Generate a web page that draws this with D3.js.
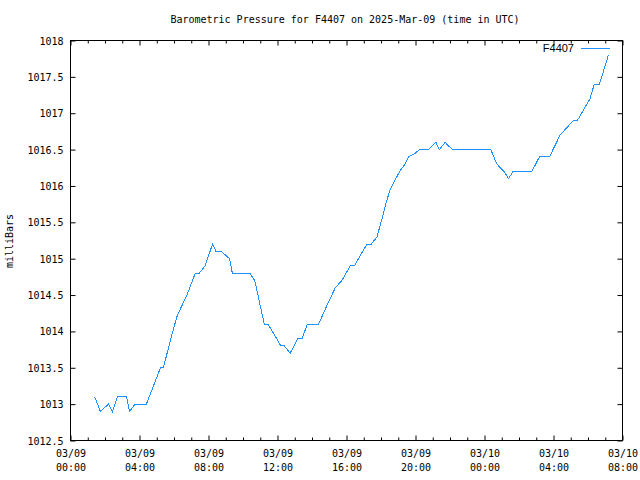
<!DOCTYPE html>
<html><head><meta charset="utf-8">
<script src="https://cdn.jsdelivr.net/npm/d3@7"></script>
<style>body{margin:0;background:#fff}svg{display:block}</style>
</head><body>
<svg id="c" width="640" height="480"></svg>
<script>
const titleText = "Barometric Pressure for F4407 on 2025-Mar-09 (time in UTC)";
const yLabelText = "milliBars";
const seriesName = "F4407";
const times = [
 "2025-03-09T01:24","2025-03-09T01:44","2025-03-09T02:12","2025-03-09T02:26","2025-03-09T02:43",
 "2025-03-09T03:15","2025-03-09T03:25","2025-03-09T03:45","2025-03-09T04:24","2025-03-09T05:13",
 "2025-03-09T05:23","2025-03-09T05:49","2025-03-09T06:10","2025-03-09T06:21","2025-03-09T06:45",
 "2025-03-09T07:14","2025-03-09T07:28","2025-03-09T07:48","2025-03-09T08:14","2025-03-09T08:26",
 "2025-03-09T08:45","2025-03-09T09:13","2025-03-09T09:23","2025-03-09T10:24","2025-03-09T10:41",
 "2025-03-09T11:14","2025-03-09T11:27","2025-03-09T12:12","2025-03-09T12:24","2025-03-09T12:44",
 "2025-03-09T13:11","2025-03-09T13:25","2025-03-09T13:44","2025-03-09T14:23","2025-03-09T14:57",
 "2025-03-09T15:21","2025-03-09T15:44","2025-03-09T16:13","2025-03-09T16:27","2025-03-09T17:11",
 "2025-03-09T17:26","2025-03-09T17:46","2025-03-09T18:07","2025-03-09T18:20","2025-03-09T18:32",
 "2025-03-09T18:45","2025-03-09T19:05","2025-03-09T19:24","2025-03-09T19:36","2025-03-09T19:59",
 "2025-03-09T20:14","2025-03-09T20:45","2025-03-09T21:11","2025-03-09T21:23","2025-03-09T21:43",
 "2025-03-09T21:55","2025-03-09T22:10","2025-03-10T00:22","2025-03-10T00:43","2025-03-10T01:08",
 "2025-03-10T01:24","2025-03-10T01:39","2025-03-10T02:45","2025-03-10T03:11","2025-03-10T03:46",
 "2025-03-10T04:23","2025-03-10T04:46","2025-03-10T05:09","2025-03-10T05:23","2025-03-10T06:07",
 "2025-03-10T06:22","2025-03-10T06:40","2025-03-10T07:11"
];
const pressures = [
 1013.1,1012.9,1013.0,1012.9,1013.1,
 1013.1,1012.9,1013.0,1013.0,1013.5,
 1013.5,1013.9,1014.2,1014.3,1014.5,
 1014.8,1014.8,1014.9,1015.2,1015.1,
 1015.1,1015.0,1014.8,1014.8,1014.7,
 1014.1,1014.1,1013.8,1013.8,1013.7,
 1013.9,1013.9,1014.1,1014.1,1014.4,
 1014.6,1014.7,1014.9,1014.9,1015.2,
 1015.2,1015.3,1015.6,1015.8,1015.95,
 1016.05,1016.2,1016.3,1016.4,1016.45,
 1016.5,1016.5,1016.6,1016.5,1016.6,
 1016.55,1016.5,1016.5,1016.3,1016.2,
 1016.1,1016.2,1016.2,1016.4,1016.4,
 1016.7,1016.8,1016.9,1016.9,1017.2,
 1017.4,1017.4,1017.8
];
const yTicks = [1012.5,1013,1013.5,1014,1014.5,1015,1015.5,1016,1016.5,1017,1017.5,1018];
const xDomain = ["2025-03-09T00:00","2025-03-10T08:00"];

const parse = d3.utcParse("%Y-%m-%dT%H:%M");
const data = times.map((t,i)=>({t:parse(t), v:pressures[i]}));

const L=70.5, R=622.5, T=40.5, B=440.5;
const x = d3.scaleUtc().domain(xDomain.map(parse)).range([L,R]);
const y = d3.scaleLinear().domain([1012.5,1018]).range([B,T]);

const svg = d3.select("#c");
svg.append("rect").attr("width",640).attr("height",480).attr("fill","#fff");
const mono = "'DejaVu Sans Mono', monospace";

svg.append("rect").attr("x",L).attr("y",T).attr("width",R-L).attr("height",B-T)
  .attr("fill","none").attr("stroke","#000").attr("stroke-width",1);

const majorX = x.ticks(d3.utcHour.every(4));
const minorX = x.ticks(d3.utcHour.every(1)).filter(d=>d.getUTCHours()%4!==0);

const gxb = svg.append("g").attr("transform",`translate(0,${B})`)
  .call(d3.axisBottom(x).tickValues(majorX).tickSize(-5).tickSizeOuter(0).tickFormat(""));
const gxbm = svg.append("g").attr("transform",`translate(0,${B})`)
  .call(d3.axisBottom(x).tickValues(minorX).tickSize(-3).tickSizeOuter(0).tickFormat(""));
const gxt = svg.append("g").attr("transform",`translate(0,${T})`)
  .call(d3.axisTop(x).tickValues(majorX).tickSize(-5).tickSizeOuter(0).tickFormat(""));
const gxtm = svg.append("g").attr("transform",`translate(0,${T})`)
  .call(d3.axisTop(x).tickValues(minorX).tickSize(-3).tickSizeOuter(0).tickFormat(""));
const gyl = svg.append("g").attr("transform",`translate(${L},0)`)
  .call(d3.axisLeft(y).tickValues(yTicks).tickSize(-5).tickSizeOuter(0).tickFormat(""));
const gyr = svg.append("g").attr("transform",`translate(${R},0)`)
  .call(d3.axisRight(y).tickValues(yTicks).tickSize(-5).tickSizeOuter(0).tickFormat(""));
[gxb,gxbm,gxt,gxtm,gyl,gyr].forEach(g=>{g.select(".domain").remove(); g.selectAll("line").attr("stroke","#000");});

const fmtD = d3.utcFormat("%m/%d"), fmtH = d3.utcFormat("%H:%M");
gxb.selectAll(".tick").each(function(d){
  const t = d3.select(this).append("text").attr("fill","#000").attr("font-family",mono).attr("font-size",10)
    .attr("text-anchor","middle");
  t.append("tspan").attr("x",0).attr("y",16).text(fmtD(d));
  t.append("tspan").attr("x",0).attr("y",30).text(fmtH(d));
});
gyl.selectAll(".tick").append("text").attr("fill","#000").attr("font-family",mono).attr("font-size",10)
  .attr("text-anchor","end").attr("x",-7).attr("dy","0.35em").text(d=>String(d));

svg.append("text").attr("x",345).attr("y",23).attr("text-anchor","middle")
  .attr("font-family",mono).attr("font-size",10).attr("fill","#000").text(titleText);
svg.append("text").attr("transform","translate(13,241) rotate(-90)").attr("text-anchor","middle")
  .attr("font-family",mono).attr("font-size",10).attr("fill","#000").text(yLabelText);

const color = "#1e90ff";
svg.append("path").datum(data).attr("fill","none").attr("stroke",color).attr("stroke-width",1)
  .attr("shape-rendering","crispEdges")
  .attr("d", d3.line().x(d=>x(d.t)).y(d=>y(d.v)));

svg.append("text").attr("x",574).attr("y",52).attr("text-anchor","end")
  .attr("font-family","'Liberation Sans', Arial, sans-serif").attr("font-size",11).attr("fill","#000").text(seriesName);
svg.append("line").attr("x1",581).attr("x2",610).attr("y1",48.5).attr("y2",48.5)
  .attr("stroke",color).attr("stroke-width",1);
</script>
</body></html>
